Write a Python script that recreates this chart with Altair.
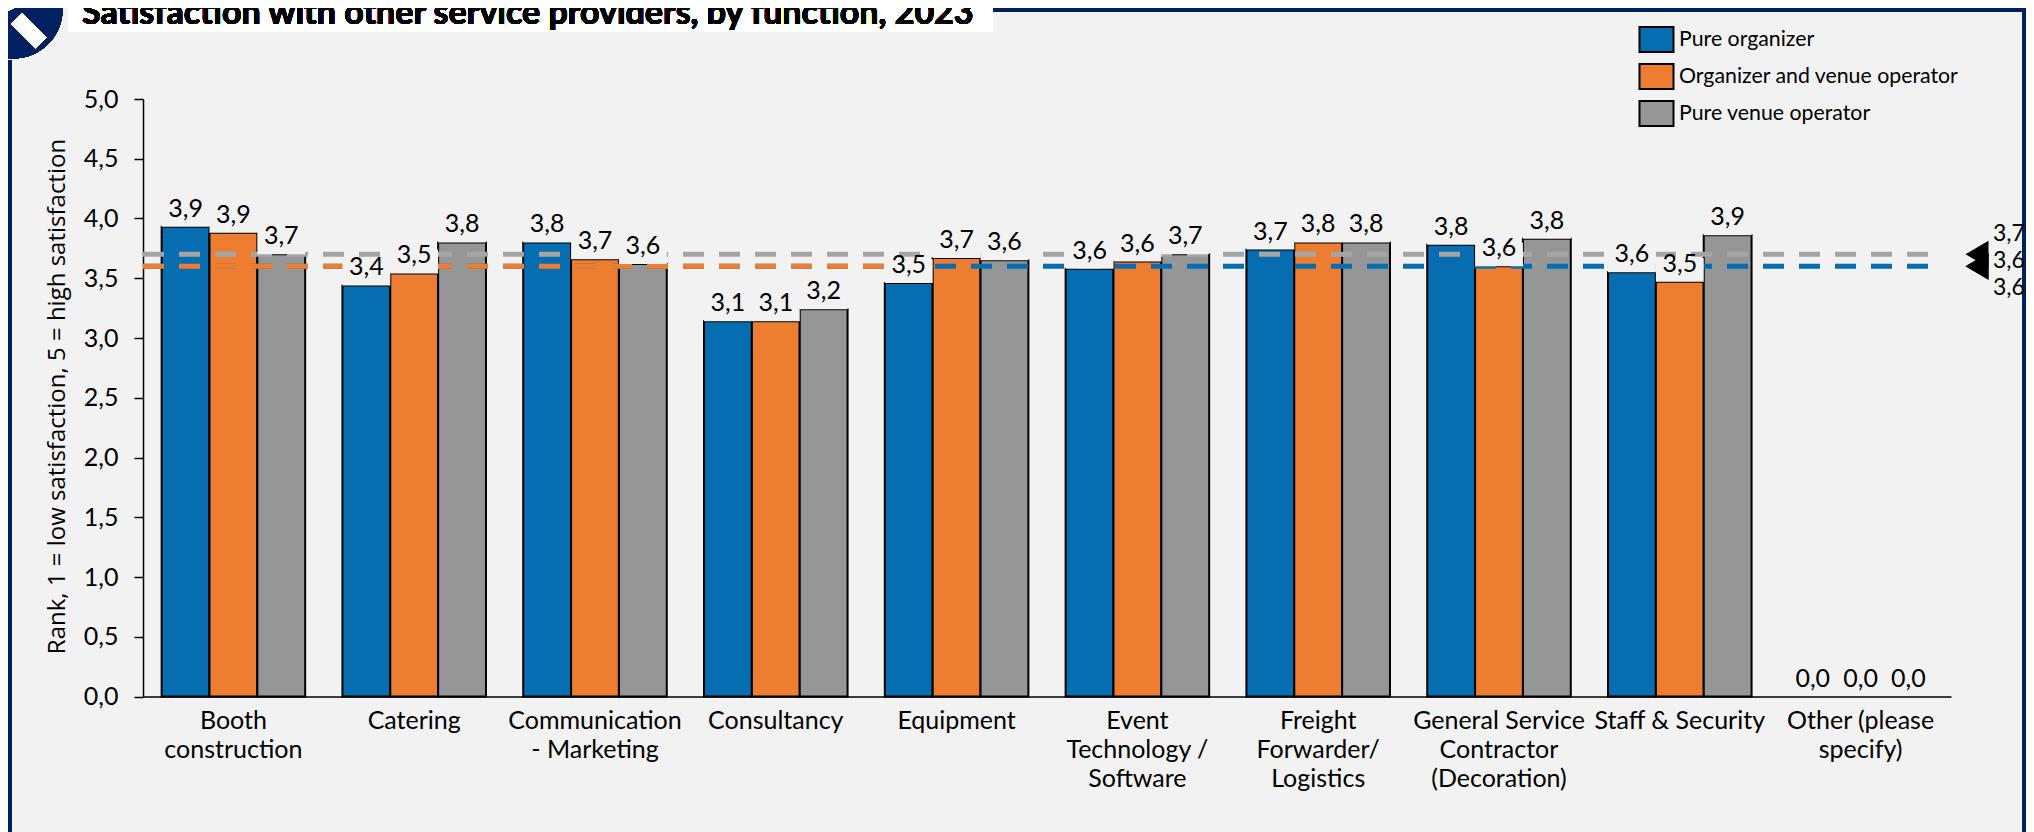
import altair as alt
import pandas as pd

categories = ["Booth|construction", "Catering", "Communication|- Marketing", "Consultancy", "Equipment",
              "Event|Technology /|Software", "Freight|Forwarder/|Logistics",
              "General Service|Contractor|(Decoration)", "Staff & Security", "Other (please|specify)"]
groups = ["Pure organizer", "Organizer and venue operator", "Pure venue operator"]
colors = ["#066EB0", "#ED7D31", "#969696"]
pure_org = [3.93, 3.44, 3.80, 3.14, 3.46, 3.58, 3.74, 3.78, 3.55, 0]
org_venue = [3.88, 3.54, 3.66, 3.14, 3.67, 3.64, 3.80, 3.60, 3.47, 0]
pure_venue = [3.70, 3.80, 3.62, 3.24, 3.65, 3.70, 3.80, 3.83, 3.86, 0]
lab_org = ["3,9", "3,4", "3,8", "3,1", "3,5", "3,6", "3,7", "3,8", "3,6", "0,0"]
lab_both = ["3,9", "3,5", "3,7", "3,1", "3,7", "3,6", "3,8", "3,6", "3,5", "0,0"]
lab_venue = ["3,7", "3,8", "3,6", "3,2", "3,6", "3,7", "3,8", "3,8", "3,9", "0,0"]
avg_values = [3.7, 3.6, 3.6]
avg_labels = ["3,7", "3,6", "3,6"]
title_text = "Satisfaction with other service providers, by function, 2023"
y_title = "Rank, 1 = low satisfaction, 5 = high satisfaction"

rows = []
for g, vals, labs in zip(groups, [pure_org, org_venue, pure_venue], [lab_org, lab_both, lab_venue]):
    for c, v, l in zip(categories, vals, labs):
        rows.append({"cat": c, "group": g, "v": v, "label": l, "top": v + 0.2})
df = pd.DataFrame(rows)
avg = pd.DataFrame({"v": avg_values, "label": avg_labels, "group": ["Pure venue operator", "Organizer and venue operator", "Pure organizer"]})

OX, OY = 143, 99
W, H = 1808, 597.5
BG = "#F2F2F2"
NAVY = "#002060"
FONT = "Lato"
def X(p): return alt.value(p - OX)
def Y(p): return alt.value(p - OY)

xs = alt.X("cat:N", sort=categories, title=None,
           scale=alt.Scale(domain=categories, paddingInner=0.206, paddingOuter=0.103),
           axis=alt.Axis(labelExpr="split(datum.value,'|')", labelAngle=0, labelFont=FONT, labelFontSize=25,
                         labelColor="black", labelLineHeight=29, labelPadding=12, labelLimit=400, ticks=False,
                         domainColor="black", domainWidth=1.5, labelBaseline="top"))
xo = alt.XOffset("group:N", sort=groups, scale=alt.Scale(domain=groups, paddingInner=0, paddingOuter=0))
ys = alt.Y("v:Q", title=y_title, scale=alt.Scale(domain=[0, 5], nice=False),
           axis=alt.Axis(values=[0, .5, 1, 1.5, 2, 2.5, 3, 3.5, 4, 4.5, 5], labelExpr="replace(format(datum.value,'.1f'),'.',',')",
                         grid=False, labelFont=FONT, labelFontSize=25, labelColor="black", tickColor="black", tickSize=9,
                         tickWidth=1.5, domainColor="black", domainWidth=1.5, labelPadding=16,
                         titleFont="Open Sans", titleFontSize=24, titleFontWeight="normal", titleColor="black",
                         titleX=-74, titleY=297))
data = alt.Data(values=df.to_dict("records"))

def deco_rect(x1, x2, y1, y2, color):
    return alt.Chart(data).mark_rect(color=color).encode(x=X(x1), x2=X(x2), y=Y(y1), y2=Y(y2))

bars = alt.Chart(df[df.v > 0]).mark_bar(stroke="black", strokeWidth=2).encode(
    x=xs, xOffset=xo, y=ys,
    color=alt.Color("group:N", sort=groups, scale=alt.Scale(domain=groups, range=colors),
                    legend=alt.Legend(orient="none", legendX=1643 - OX, legendY=26 - OY, title=None,
                                      symbolType="M-1.36,-1H1.36V1H-1.36Z", symbolSize=625, symbolStrokeColor="black",
                                      symbolStrokeWidth=2, symbolOpacity=1, labelFont=FONT, labelFontSize=21.3, labelColor="black",
                                      labelLimit=400, rowPadding=4, labelOffset=9)))

def line(idx, color, x_end):
    d = avg.iloc[[idx]]
    return alt.Chart(d).mark_rule(color=color, strokeWidth=5, strokeDash=[21, 15]).encode(
        y=alt.Y("v:Q", scale=alt.Scale(domain=[0, 5], nice=False)), x=alt.value(0), x2=alt.value(x_end - OX))

mask = alt.Chart(df[df.v > 0]).mark_bar(color=BG).encode(x=xs, xOffset=xo, y=alt.Y("v:Q"), y2="top:Q")
labels = alt.Chart(df).mark_text(font=FONT, fontSize=25, color="black", baseline="alphabetic", dy=-10).encode(
    x=xs, xOffset=xo, y="v:Q", text="label:N")

tri = alt.Chart(avg).mark_point(shape="M0.85,-1L-0.85,0L0.85,1Z", filled=True, color="black", opacity=1, size=729, strokeWidth=0).encode(
    x=alt.value(1977 - OX), y=alt.Y("v:Q"))

side_layers = [
    alt.Chart(avg.iloc[[i]]).mark_text(font=FONT, fontSize=23, color="black", align="left", baseline="middle", text=avg_labels[i]).encode(
        x=X(1993), y=Y(py)) for i, py in enumerate([234, 261, 288])
]

title_box = deco_rect(68, 993, 0, 32, "white")
title = alt.Chart(data).mark_text(font=FONT, fontSize=34, fontWeight="bold", color="black", align="left", baseline="alphabetic",
                                  text=title_text).encode(x=X(82), y=Y(24))
logo = alt.Chart(data).mark_point(shape="circle", filled=True, color=NAVY, opacity=1, size=9852, strokeWidth=0).encode(x=X(13), y=Y(9))
stripe = alt.Chart(data).mark_rule(color="white", strokeWidth=15.6).encode(x=X(16.5), x2=X(41), y=Y(18.5), y2=Y(43))
stripe2 = alt.Chart(data).mark_rule(color="white", strokeWidth=10).encode(x=X(0), x2=X(25), y=Y(9), y2=Y(-3))

layers = [
    deco_rect(8, 12, 60, 832, NAVY), deco_rect(993, 2026, 8, 12, NAVY), deco_rect(2022, 2026, 8, 832, NAVY),
    title_box, logo, stripe, stripe2, title,
    bars, line(0, "#A5A5A5", 1942), line(2, colors[0], 1942), line(1, colors[1], 886),
    mask, labels, tri,
] + side_layers

chart = alt.layer(*layers).properties(
    width=W, height=H,
    padding={"left": OX - 8, "top": OY - 8, "right": 2018 - (OX - 8) - W, "bottom": 824 - (OY - 8) - H},
    autosize=alt.AutoSizeParams(type="none", contains="content"),
    background=BG,
).configure_view(stroke=None)

chart.save("out.html", embed_options={"renderer": "svg", "actions": False})
